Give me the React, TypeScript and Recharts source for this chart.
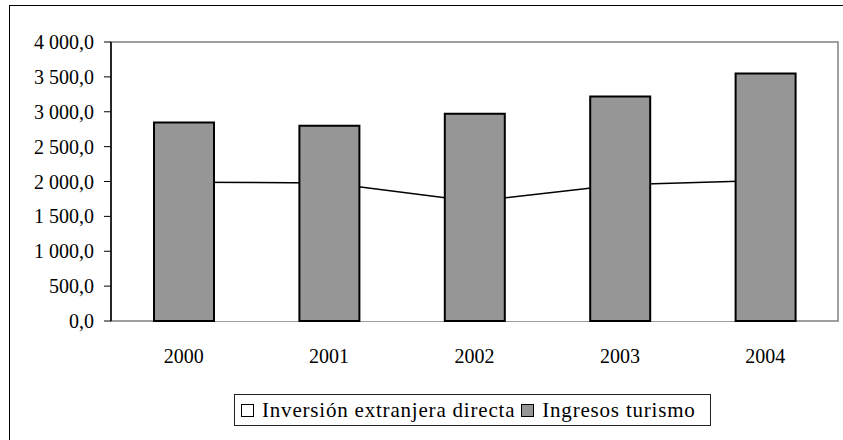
import { Area, Bar, ComposedChart, ReferenceArea, XAxis, YAxis } from "recharts";

const years = ["2000", "2001", "2002", "2003", "2004"];
const ingresosTurismo = [2845, 2800, 2970, 3220, 3550];
const inversionExtranjera = [1990, 1980, 1715, 1955, 2015];
const yTicks = [0, 500, 1000, 1500, 2000, 2500, 3000, 3500, 4000];
const boundaryTicks = [0, 1, 2, 3, 4, 5];

const seriesNames = ["Inversión extranjera directa", "Ingresos turismo"];
const seriesColors = ["#ffffff", "#969696"];

const data = years.map((year, i) => ({
  year,
  inversion: inversionExtranjera[i],
  turismo: ingresosTurismo[i]
}));

const font = "Liberation Serif, DejaVu Serif, serif";

const formatValue = (v: number) => {
  const [int, dec] = v.toFixed(1).split(".");
  return int.replace(/\B(?=(\d{3})+(?!\d))/g, " ") + "," + dec;
};

const CrossTick = ({ x, y }: { x?: number; y?: number }) => (
  <line x1={x} x2={x} y1={(y ?? 0) - 7} y2={(y ?? 0) + 7} stroke="#000" strokeWidth={1} />
);

export default function App() {
  return (
    <div style={{ position: "absolute", left: 0, top: 0, width: 843, height: 440, background: "#fff", fontFamily: font }}>
      <div
        style={{
          position: "absolute",
          left: 9,
          top: 5,
          width: 834,
          height: 435,
          borderTop: "1px solid #000",
          borderLeft: "1px solid #000",
          boxSizing: "border-box"
        }}
      />
      <div style={{ position: "absolute", left: 0, top: 0 }}>
        <ComposedChart
          width={843}
          height={440}
          data={data}
          margin={{ top: 42, right: 5, left: 0, bottom: 79 }}
          style={{ fontFamily: font }}
        >
          <ReferenceArea y1={0} y2={4000} fill="none" stroke="#808080" strokeWidth={1.5} />
          <XAxis
            xAxisId="bounds"
            type="number"
            domain={[0, 5]}
            ticks={boundaryTicks}
            height={0}
            tickSize={0}
            tickMargin={0}
            tickLine={false}
            axisLine={{ stroke: "#000", strokeWidth: 1.5 }}
            tick={<CrossTick />}
          />
          <XAxis
            dataKey="year"
            height={40}
            axisLine={false}
            tickLine={false}
            tickSize={0}
            tickMargin={28}
            tick={{ fill: "#000", fontSize: 20, fontFamily: font }}
            interval={0}
          />
          <YAxis
            width={111}
            domain={[0, 4000]}
            ticks={yTicks}
            tickFormatter={formatValue}
            axisLine={{ stroke: "#000", strokeWidth: 1.5 }}
            tickLine={{ stroke: "#000" }}
            tickSize={7}
            tickMargin={10}
            tick={{ fill: "#000", fontSize: 20, fontFamily: font }}
            interval={0}
          />
          <Area
            type="linear"
            dataKey="inversion"
            name={seriesNames[0]}
            fill={seriesColors[0]}
            fillOpacity={1}
            stroke="#000"
            strokeWidth={1.5}
            dot={false}
            activeDot={false}
            isAnimationActive={false}
          />
          <Bar
            dataKey="turismo"
            name={seriesNames[1]}
            fill={seriesColors[1]}
            stroke="#000"
            strokeWidth={2}
            barSize={60}
            isAnimationActive={false}
          />
        </ComposedChart>
      </div>
      <div
        style={{
          position: "absolute",
          left: 234,
          top: 394,
          width: 477,
          height: 32,
          border: "1px solid #222",
          boxSizing: "border-box",
          display: "flex",
          alignItems: "center",
          paddingLeft: 6,
          fontFamily: font,
          fontSize: 21,
          letterSpacing: 0.8,
          color: "#000",
          whiteSpace: "nowrap"
        }}
      >
        {seriesNames.map((name, i) => (
          <span key={name} style={{ display: "flex", alignItems: "center", marginRight: 6 }}>
            <span
              style={{
                display: "inline-block",
                width: 11,
                height: 11,
                border: "1px solid #000",
                background: seriesColors[i],
                marginRight: 8
              }}
            />
            {name}
          </span>
        ))}
      </div>
    </div>
  );
}
